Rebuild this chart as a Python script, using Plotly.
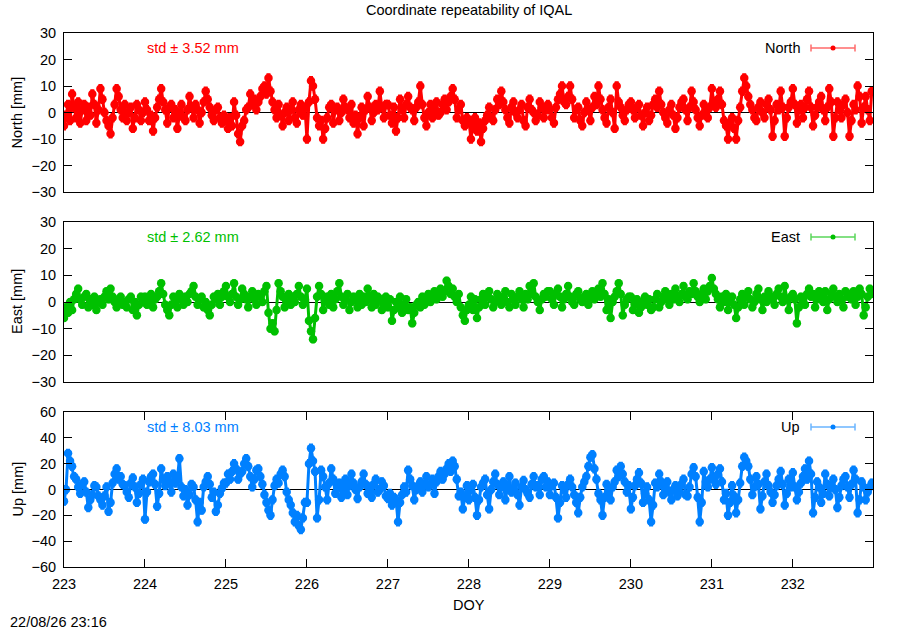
import numpy as np
import plotly.graph_objects as go

# sample times, every 0.025 day (36 min), DOY 223.000 .. 232.975
doy = np.round(np.arange(223.0, 233.0, 0.025), 3)

# residuals in mm, 40 samples per day
north_mm = [
    -5, -1, 3, -3, 7, 2, -2, 4, -4, 1, 3, -3, 2, -1, 7, 3, -4, 1, 9, 5,
    0, -3, -5, -8, -2, 3, 9, 6, 1, -2, 3, -3, 0, 2, -6, -2, 3, 1, -3, 0,      # 223
    4, 1, -3, -1, -7, -2, 2, 5, 9, 4, 1, -4, 2, 3, -2, 1, -6, -1, 3, -2,
    -3, 1, 6, 2, -2, 3, 1, -4, 0, 4, 8, 5, 2, -1, -3, 1, 2, -2, -4, -1,       # 224
    -3, -6, -2, -5, 4, -1, -8, -11, -5, -3, 1, 2, 7, 3, 5, 1, 4, 6, 9, 10,
    7, 13, 8, 4, 1, -2, 3, -1, -5, 0, 2, -3, 1, 4, -2, -4, 1, 3, -1, 2,       # 225
    -10, 4, 12, 10, 5, -2, -5, -3, -10, -6, -2, 2, 3, -4, 1, 2, -3, 0, 5, 2,
    1, -2, 3, -4, -1, -8, -2, 2, -5, 1, 6, 2, -3, 0, 3, 1, 8, 2, -2, 3,       # 226
    3, -1, -4, 2, -7, -2, 5, 1, -2, 3, 6, 2, 1, -3, 2, 4, 10, 3, -2, -5,
    0, 3, -2, 1, 4, -1, 0, 3, 5, 1, 4, 6, 9, 5, -2, 1, 3, -3, -5, -2,         # 227
    -3, -10, -5, -2, -7, -4, -11, -6, -3, -1, 2, -2, -3, 1, 5, 3, 8, 4, 1, -2,
    -4, 2, 4, 0, -2, 1, 3, -3, -5, 2, 5, 1, 0, -3, -1, 4, 2, -2, 1, 3,        # 228
    1, -2, -4, 2, 5, 7, 10, 4, 3, 6, 10, 5, -2, 1, 2, -3, -5, 0, 4, 1,
    -3, 2, 6, 3, 10, 5, 1, -2, -4, 2, 5, 0, -6, 10, 4, 2, -1, -3, 1, 3,       # 229
    4, 1, -2, 2, 3, -1, -5, 0, 2, -3, -1, 3, 5, 2, 8, 3, 0, -2, -4, 1,
    3, -1, -6, -2, 2, 4, 5, 1, -3, 2, 8, 4, 1, -2, -5, -1, 3, 1, -2, 2,       # 230
    9, 4, 2, 5, 8, 3, -3, -5, -10, -4, -2, -6, -10, -3, 2, 8, 13, 10, 6, 3,
    1, -2, -3, 2, 4, 0, -2, 3, 5, 1, -9, -3, 3, 1, 8, 2, -9, -2, 2, 4,        # 231
    9, 3, -4, 1, 3, -2, 2, 5, 8, 2, -5, -1, 2, 4, 6, 1, -3, 2, 9, 4,
    -9, -2, 4, 1, -2, 3, 5, 0, -9, -3, 3, 1, 10, 6, -4, 2, 6, 1, -3, 8,       # 232
]
east_mm = [
    -6, -2, -4, 0, -3, 1, 3, 5, 1, -1, 2, 3, -2, 1, -1, 2, -3, 0, 1, -1,
    2, 4, 1, 5, 2, 0, -2, 1, 2, -1, 0, -2, 1, 2, -3, 0, -5, -1, 2, 0,         # 223
    2, -1, 1, 3, -2, 1, 2, 4, 7, 3, -1, -3, -5, -1, 2, 1, -2, 3, 1, -1,
    2, 0, 3, 4, 6, 2, -1, 1, 2, -2, 0, -3, -5, -1, 2, 1, 3, -1, 2, 4,         # 224
    6, 2, 0, 3, 7, 2, -1, 1, 5, 3, 1, -2, 2, 4, 1, -1, 3, 2, 0, 4,
    6, -4, -10, -8, -11, -3, 7, 4, 2, -2, 1, 3, -1, 2, 0, 3, 6, 2, -1, 1,     # 225
    5, -7, -11, -14, -6, 2, 6, 3, -3, 1, 2, -1, 3, -2, 1, 4, 7, 2, -1, 1,
    3, -3, 0, 2, 1, -2, 3, -1, 2, 0, 5, 1, -2, 3, -1, 2, 1, -3, 0, 2,         # 226
    -2, 1, -7, -3, 0, -2, 2, -4, -1, 1, -3, -2, -8, -4, -1, 0, -2, 2, -1, 1,
    3, 0, 2, 4, 1, 3, 5, 2, 4, 8, 6, 3, 5, 2, 0, 3, -2, -5, -7, -3,           # 227
    -1, 2, -3, 1, -6, -2, 1, 3, -1, 2, 4, 1, -2, 0, 3, 1, -1, 2, 4, 0,
    -2, 3, 1, -1, 2, 4, 1, -2, 3, 1, 6, 3, 7, 2, 0, -3, 1, 3, 2, 4,           # 228
    4, 1, -1, 3, 5, 2, -2, 1, 3, 6, 2, 0, -1, 3, 4, 1, 0, 2, 3, -1,
    2, 4, 1, 3, 5, 2, 7, 3, -3, 1, -6, 0, 2, 4, 7, 3, -5, -1, 1, 2,           # 229
    2, -3, -1, 1, -4, -2, 0, 2, -1, 1, -3, -2, 1, 3, -2, 0, 2, 4, 1, -1,
    3, 1, 5, 2, 0, 3, 6, 2, 1, 4, 3, 7, 4, 2, 0, 3, 5, 1, 4, 6,               # 230
    9, 5, 3, 1, -2, 2, 0, 3, -3, 1, 2, -1, -6, -2, 1, 3, -1, 2, 4, 1,
    -2, 0, 3, 5, 1, -3, 2, 0, 4, 1, 2, -1, 3, 5, 2, 0, 6, 1, -3, 2,           # 231
    3, 1, -8, -2, 2, 0, -1, 3, 5, 2, 3, -2, 1, 4, 2, 0, 4, -3, 1, 3,
    5, 2, 0, 3, 1, -2, 4, 2, 3, 1, 4, -1, 2, 5, 3, -5, -2, 2, 5, 3,           # 232
]
up_mm = [
    -9, 0, 28, 22, 18, 10, 8, 2, -3, 4, 6, -2, -14, -8, -4, 3, 2, -5, -8, -12,
    -5, 2, -17, -10, 5, 12, 16, 8, 10, 4, 3, -2, -6, 5, 9, 2, -10, -3, 4, 8,            # 223
    -23, -2, 6, 10, 12, 4, -13, -3, 16, 8, 3, 10, 6, -2, 12, 5, 8, 24, 2, -5,
    0, -12, -4, 4, 2, -8, -25, -10, -16, 2, 6, 10, 4, -6, -2, -17, -12, -3, 1, 5,       # 224
    5, 12, 8, 14, 20, 16, 8, 12, 14, 20, 24, 18, 10, 2, 8, 15, 16, 10, 4, -4,
    -10, -16, -20, -8, 3, 8, 5, 12, 15, 10, -2, -8, -12, -18, -25, -20, -28, -31, -22, -10,  # 225
    -10, 20, 32, 22, 14, -22, -8, 15, 10, 2, -8, 5, 16, 8, -3, 2, 5, -6, 0, 8,
    -4, 3, 12, 5, 0, -7, 2, 6, 12, 4, -3, 2, -6, 4, 8, -2, 0, 6, 3, -5,                 # 226
    -7, -3, -12, -6, -8, -25, -10, -4, 2, -2, 15, 8, 3, -8, 0, 3, 6, -2, 4, 10,
    2, 4, 8, -3, 6, 10, 14, 8, 12, 16, 20, 14, 22, 18, 8, -5, -2, -15, -6, 3,           # 227
    -8, 0, 4, -6, -20, -8, 2, 5, 8, -4, -15, 0, 6, 12, 4, -4, 2, 6, -8, 3,
    10, -2, 0, 5, -4, -12, 2, 7, 0, -3, -6, 4, 10, 2, 3, -4, 8, 10, 2, 6,               # 228
    -4, 3, 5, -6, -22, -10, 3, 0, -6, 4, 8, 2, -4, -10, -18, -6, 2, 6, 10, 18,
    25, 27, 16, 8, -3, -8, -20, -6, 4, -2, -8, 2, 6, 15, 10, 18, 12, 6, -2, 3,          # 229
    -15, -6, 3, 8, 13, 5, -10, -3, 2, -8, -25, -12, 5, 2, 12, 6, -4, 2, 6, -2,
    -8, 0, 3, -5, -2, 4, 8, -4, -5, 2, 12, 17, 10, -6, -25, -10, 14, 6, 2, 8,           # 230
    17, 8, 4, 12, 16, 6, -8, -3, -20, -10, 3, -5, -18, -8, 5, 18, 25, 22, 18, 8,
    -4, 2, 10, 4, -15, -5, 6, 12, 3, -2, -10, -4, 3, 8, 14, 4, -12, -3, 8, 2,           # 231
    13, 2, -8, -2, 5, 10, 16, 8, 22, 12, -18, -6, 6, 2, -10, -3, 12, 4, -5, 2,
    8, 0, -14, -6, 3, 8, 10, 2, -6, 4, 15, 8, -18, -8, 6, 2, -8, -2, 2, 5,              # 232
]

names = ['North', 'East', 'Up']
std_mm = [3.52, 2.62, 8.03]
sigma_mm = [1.5, 1.2, 3.0]
y_max = [30, 30, 60]
y_step = [10, 10, 20]
colors = ['#ff0000', '#00c000', '#0080ff']
legend_line = ['#ff6a6a', '#5ad65a', '#6ab4ff']

FONT = 'Liberation Sans, Arial, sans-serif'
FS = 14.5

W, H = 900, 630
# plot area in page pixels
L, R, T, B = 64, 873, 33, 567
panel_px = [(33, 192), (222, 382), (412, 567)]


def px_x(px):
    return (px - L) / (R - L)


def px_y(py):
    return (B - py) / (B - T)


def text(x, y, s, color='black', **kw):
    d = dict(xref='paper', yref='paper', x=px_x(x), y=px_y(y),
             xanchor='center', yanchor='middle', showarrow=False, text=s,
             font=dict(family=FONT, size=FS, color=color))
    d.update(kw)
    return d


def plot():
    series = [north_mm, east_mm, up_mm]
    fig = go.Figure()
    annotations = []
    shapes = []

    for i, name in enumerate(names):
        sfx = '' if i == 0 else str(i + 1)
        fig.add_trace(
            go.Scatter(
                x=doy,
                y=series[i],
                mode='lines+markers',
                name=name,
                xaxis='x' + sfx,
                yaxis='y' + sfx,
                line=dict(color=colors[i], width=3),
                marker=dict(color=colors[i], size=8.5, symbol='circle'),
                error_y=dict(
                    type='constant',
                    value=sigma_mm[i],
                    color=colors[i],
                    thickness=1.5,
                    width=2),
            )
        )

        top, bot = panel_px[i]
        last = i == 2
        fig.layout['yaxis' + sfx] = dict(
            domain=[px_y(bot), px_y(top)],
            anchor='x' + sfx,
            range=[-y_max[i], y_max[i]],
            dtick=y_step[i],
            tick0=0,
            ticks='inside',
            ticklen=8,
            tickcolor='black',
            showline=True,
            linecolor='black',
            linewidth=1,
            mirror='ticks',
            showgrid=False,
            zeroline=True,
            zerolinecolor='black',
            zerolinewidth=1,
            tickfont=dict(family=FONT, size=FS, color='black'),
            ticklabelstandoff=4,
        )
        fig.layout['xaxis' + sfx] = dict(
            domain=[0, 1],
            anchor='y' + sfx,
            range=[223, 232.99],
            tickvals=list(range(223, 233)),
            ticks='inside' if last else '',
            ticklen=8,
            tickcolor='black',
            showticklabels=last,
            showline=True,
            linecolor='black',
            linewidth=1,
            mirror='ticks' if last else True,
            showgrid=False,
            zeroline=False,
            tickfont=dict(family=FONT, size=FS, color='black'),
            ticklabelstandoff=4,
        )
        if i > 0:
            fig.layout['xaxis' + sfx]['matches'] = 'x'

        # std label
        annotations.append(text(145, top + 15, 'std \u00b1 {:.2f} mm'.format(std_mm[i]),
                                color=colors[i], xanchor='left'))
        # y axis label
        annotations.append(text(17, (top + bot) / 2, '{} [mm]'.format(name), textangle=-90))

        # gnuplot style key: text left of an error-bar sample
        ky = top + 15
        annotations.append(text(802, ky, name, xanchor='right'))
        line_style = dict(color=legend_line[i], width=1.5)
        shapes.append(dict(type='line', xref='paper', yref='paper',
                           x0=px_x(811), x1=px_x(855), y0=px_y(ky), y1=px_y(ky),
                           line=line_style))
        for cx in (811, 855):
            shapes.append(dict(type='line', xref='paper', yref='paper',
                               x0=px_x(cx), x1=px_x(cx),
                               y0=px_y(ky - 3.5), y1=px_y(ky + 3.5),
                               line=line_style))
        shapes.append(dict(type='circle', xref='paper', yref='paper',
                           x0=px_x(830.5), x1=px_x(835.5),
                           y0=px_y(ky + 2.5), y1=px_y(ky - 2.5),
                           fillcolor=colors[i], line=dict(color=colors[i], width=0)))

    annotations += [
        text(468.5, 10, 'Coordinate repeatability of IQAL'),
        text(468.5, 605, 'DOY'),
        text(8, 622, '22/08/26 23:16', xanchor='left'),
    ]

    fig.update_layout(
        width=W,
        height=H,
        margin=dict(l=L, r=W - R, t=T, b=H - B, pad=0),
        paper_bgcolor='white',
        plot_bgcolor='white',
        showlegend=False,
        annotations=annotations,
        shapes=shapes,
        font=dict(family=FONT, size=FS, color='black'),
    )
    return fig


fig = plot()
# drop the default 8 px body margin so the figure fills the 900x630 window
fig.write_html('out.html', config={'displayModeBar': False},
               post_script="document.body.style.margin = '0';")
